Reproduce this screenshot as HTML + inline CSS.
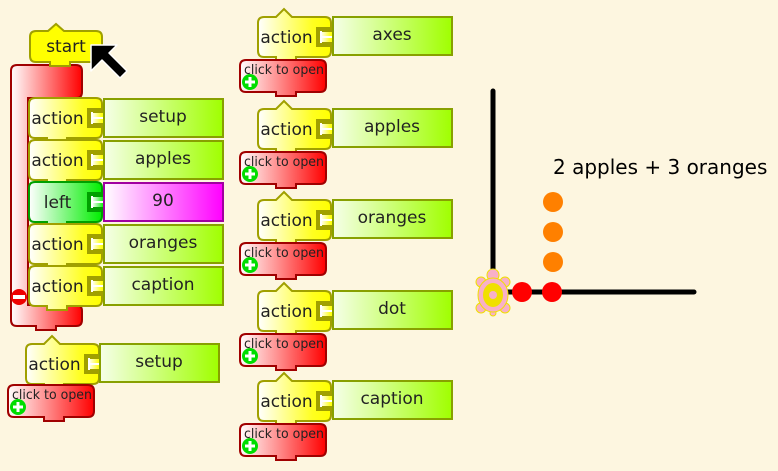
<!DOCTYPE html>
<html><head><meta charset="utf-8"><style>
html,body{margin:0;padding:0;background:#fdf6e0;}
svg{display:block;font-family:"DejaVu Sans","Liberation Sans",sans-serif;}
</style></head><body>
<svg id="s" width="778" height="471" xmlns="http://www.w3.org/2000/svg">
<defs>
<linearGradient id="gy"><stop offset="0" stop-color="#ffffff"/><stop offset="0.75" stop-color="#ffff20"/><stop offset="1" stop-color="#ffff00"/></linearGradient>
<linearGradient id="ga"><stop offset="0" stop-color="#f6ffe8"/><stop offset="1" stop-color="#a0ff00"/></linearGradient>
<linearGradient id="gr"><stop offset="0" stop-color="#ffffff"/><stop offset="1" stop-color="#ff0000"/></linearGradient>
<linearGradient id="gg"><stop offset="0" stop-color="#ffffff"/><stop offset="1" stop-color="#00ee00"/></linearGradient>
<linearGradient id="gm"><stop offset="0" stop-color="#ffffff"/><stop offset="1" stop-color="#ff00ff"/></linearGradient>
</defs>
<rect width="778" height="471" fill="#fdf6e0"/>
<g id="g"></g>
<line x1="493" y1="91" x2="493" y2="292" stroke="#000" stroke-width="5" stroke-linecap="round"/>
<line x1="493" y1="292" x2="694" y2="292" stroke="#000" stroke-width="5" stroke-linecap="round"/>
<circle cx="522" cy="292" r="10" fill="#ff0000"/>
<circle cx="552" cy="292" r="10" fill="#ff0000"/>
<circle cx="553" cy="202" r="10" fill="#ff8000"/>
<circle cx="553" cy="232" r="10" fill="#ff8000"/>
<circle cx="553" cy="262" r="10" fill="#ff8000"/>
<g stroke="#f0e000" stroke-width="1" fill="#f8b0c8">
<circle cx="493" cy="275" r="6"/><circle cx="481" cy="282" r="5"/><circle cx="505" cy="282" r="5"/>
<circle cx="481" cy="308" r="5"/><circle cx="505" cy="308" r="5"/><circle cx="493" cy="313" r="3"/>
<ellipse cx="493" cy="295" rx="15" ry="17"/>
</g>
<ellipse cx="493" cy="295" rx="10" ry="12" fill="#f0e000"/>
<circle cx="493" cy="295" r="4" fill="#f8b0c8"/>
<text x="553" y="174" font-size="20" fill="#000">2 apples + 3 oranges</text>
</svg>
<script>
var g=document.getElementById('g'),h='';
function act(x,y,label,hat,fill,stroke){
  fill=fill||'url(#gy)';stroke=stroke||'#a0a000';
  var w=73,H=40,r=6,p='M'+(x+r)+','+y;
  if(hat){p+=' L'+(x+18)+','+y+' L'+(x+26)+','+(y-8)+' L'+(x+34)+','+y;}
  p+=' L'+(x+w-r)+','+y+' Q'+(x+w)+','+y+' '+(x+w)+','+(y+r)+' L'+(x+w)+','+(y+H-r)+' Q'+(x+w)+','+(y+H)+' '+(x+w-r)+','+(y+H)+
  ' L'+(x+38)+','+(y+H)+' L'+(x+38)+','+(y+H+4)+' L'+(x+18)+','+(y+H+4)+' L'+(x+18)+','+(y+H)+' L'+(x+r)+','+(y+H)+' Q'+x+','+(y+H)+' '+x+','+(y+H-r)+' L'+x+','+(y+r)+' Q'+x+','+y+' '+(x+r)+','+y+'Z';
  h+='<path d="'+p+'" fill="'+fill+'" stroke="'+stroke+'" stroke-width="2"/>';
  h+='<rect x="'+(x+w-15)+'" y="'+(y+10)+'" width="15" height="20" fill="'+stroke+'"/>';
  h+='<rect x="'+(x+w-10)+'" y="'+(y+15)+'" width="12" height="10" fill="'+fill+'"/>';
  h+='<path d="M'+(x+w-10)+','+(y+14)+' v12 M'+(x+w-10)+','+(y+20)+' h12" stroke="#fff" stroke-width="2"/>';
  h+='<text x="'+(x+w/2-8)+'" y="'+(y+26)+'" font-size="17" text-anchor="middle" fill="#222">'+label+'</text>';
}
function arg(x,y,t,f,s){h+='<rect x="'+(x+1)+'" y="'+(y+1)+'" width="119" height="38" fill="'+(f||'url(#ga)')+'" stroke="'+(s||'#88a000')+'" stroke-width="2"/><text x="'+(x+60)+'" y="'+(y+24)+'" font-size="17" text-anchor="middle" fill="#222">'+t+'</text>';}
function cto(x,y){
  var w=86,H=32,p='M'+(x+6)+','+y+' L'+(x+w-6)+','+y+' Q'+(x+w)+','+y+' '+(x+w)+','+(y+6)+' L'+(x+w)+','+(y+H-6)+' Q'+(x+w)+','+(y+H)+' '+(x+w-6)+','+(y+H)+' L'+(x+56)+','+(y+H)+' L'+(x+56)+','+(y+H+4)+' L'+(x+36)+','+(y+H+4)+' L'+(x+36)+','+(y+H)+' L'+(x+6)+','+(y+H)+' Q'+x+','+(y+H)+' '+x+','+(y+H-6)+' L'+x+','+(y+6)+' Q'+x+','+y+' '+(x+6)+','+y+'Z';
  h+='<path d="'+p+'" fill="url(#gr)" stroke="#a00000" stroke-width="2"/>';
  h+='<text x="'+(x+4)+'" y="'+(y+14)+'" font-size="13" textLength="80" lengthAdjust="spacingAndGlyphs" fill="#222">click to open</text>';
  h+='<circle cx="'+(x+10)+'" cy="'+(y+22)+'" r="8" fill="#00dd00"/><path d="M'+(x+5)+','+(y+22)+' h10 M'+(x+10)+','+(y+17)+' v10" stroke="#fff" stroke-width="3"/>';
}
h+='<path d="M17,65 L76,65 Q82,65 82,71 L82,92 Q82,98 76,98 L62,98 L62,102 L42,102 L42,98 L28,98 L28,305 L76,305 Q82,305 82,311 L82,320 Q82,326 76,326 L56,326 L56,330 L36,330 L36,326 L17,326 Q11,326 11,320 L11,71 Q11,65 17,65Z" fill="url(#gr)" stroke="#a00000" stroke-width="2"/>';
h+='<circle cx="19" cy="297" r="8" fill="#ee0000"/><rect x="13" y="295" width="12" height="4" fill="#fff"/>';
h+='<path d="M36,31 L48,31 L56,24 L64,31 L96,31 Q102,31 102,37 L102,56 Q102,62 96,62 L70,62 L70,66 L50,66 L50,62 L36,62 Q30,62 30,56 L30,37 Q30,31 36,31Z" fill="#ffff00" stroke="#a0a000" stroke-width="2"/>';
h+='<text x="66" y="52" font-size="17" text-anchor="middle" fill="#222">start</text>';
h+='<path d="M91,45 L117,45 L109,53 L127,71 L120,78 L102,60 L91,71Z" fill="#000" stroke="#fff" stroke-width="1.5" stroke-linejoin="round"/>';
var rows=[['action','setup'],['action','apples'],['left','90'],['action','oranges'],['action','caption']];
rows.forEach(function(r,i){var y=98+i*42;
 if(r[0]=='left'){act(29,y,'left',0,'url(#gg)','#00a000');arg(103,y,'90','url(#gm)','#a000a0');}
 else{act(29,y,'action',0);arg(103,y,r[1]);}
});
act(26,344,'action',1);arg(99,343,'setup');cto(8,385);
[['axes',17],['apples',109],['oranges',200],['dot',291],['caption',381]].forEach(function(r){act(258,r[1],'action',1);arg(332,r[1]-1,r[0]);cto(240,r[1]+43);});
g.innerHTML=h;
</script>
</body></html>
